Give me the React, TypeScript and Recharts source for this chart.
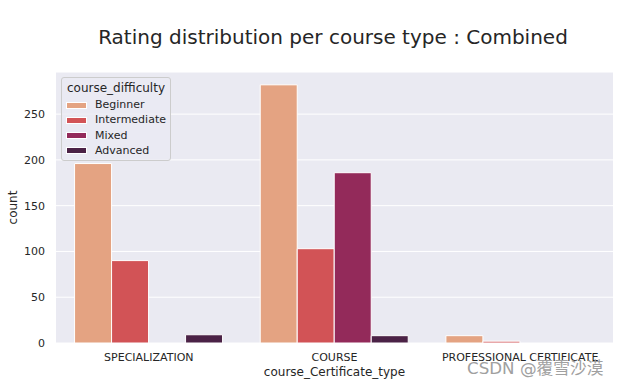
import React from "react";
import { BarChart, Bar, XAxis, YAxis, CartesianGrid, Label } from "recharts";

const categories = ["SPECIALIZATION", "COURSE", "PROFESSIONAL CERTIFICATE"];
const difficulties = ["Beginner", "Intermediate", "Mixed", "Advanced"];
const beginner = [196, 282, 8];
const intermediate = [90, 103, 2];
const mixed = [0, 186, 0];
const advanced = [9, 8, 0];
const yTicks = [0, 50, 100, 150, 200, 250];
const colors = ["#E4A382", "#D25356", "#932A5A", "#4B2246"];

const seriesValues = [beginner, intermediate, mixed, advanced];
const data = categories.map((c, i) => {
  const row: Record<string, string | number> = { type: c };
  difficulties.forEach((d, j) => {
    row[d] = seriesValues[j][i];
  });
  return row;
});

const FONT = "'DejaVu Sans', sans-serif";
const TEXT = "#262626";

export default function App() {
  return (
    <div style={{ position: "absolute", left: 0, top: 0, width: 619, height: 387, background: "#fff", fontFamily: FONT }}>
      <BarChart
        width={619}
        height={387}
        data={data}
        margin={{ top: 72, right: 6, bottom: 0, left: 0 }}
        barCategoryGap="10%"
        barGap={0}
      >
        <CartesianGrid vertical={false} stroke="#ffffff" strokeWidth={1} fill="#EAEAF2" />
        <XAxis
          dataKey="type"
          height={44}
          tickLine={false}
          axisLine={false}
          tickSize={0}
          tickMargin={10}
          tick={{ fontSize: 11, fill: TEXT, fontFamily: FONT }}
        >
          <Label value="course_Certificate_type" position="insideBottom" offset={11} style={{ fontSize: 12, fill: TEXT, fontFamily: FONT }} />
        </XAxis>
        <YAxis
          width={56}
          domain={[0, 296]}
          ticks={yTicks}
          tickLine={false}
          axisLine={false}
          tickSize={0}
          tickMargin={11}
          tick={{ fontSize: 11, fill: TEXT, fontFamily: FONT }}
        >
          <Label value="count" angle={-90} position="insideLeft" offset={13} style={{ fontSize: 12, fill: TEXT, fontFamily: FONT, textAnchor: "middle" }} />
        </YAxis>
        {difficulties.map((d, j) => (
          <Bar key={d} dataKey={d} fill={colors[j]} stroke="#ffffff" strokeWidth={1} isAnimationActive={false} />
        ))}
      </BarChart>

      <div style={{ position: "absolute", left: 0, width: 666, top: 25, textAlign: "center", fontSize: 20, color: TEXT, lineHeight: "24px", whiteSpace: "nowrap" }}>
        Rating distribution per course type : Combined
      </div>

      <div
        style={{
          position: "absolute",
          left: 61,
          top: 77,
          width: 108,
          height: 82,
          background: "rgba(234,234,242,0.8)",
          border: "1px solid #cccccc",
          borderRadius: 3,
          color: TEXT,
        }}
      >
        <div style={{ position: "absolute", left: 0, width: 108, top: 2, textAlign: "center", fontSize: 12, lineHeight: "16px", whiteSpace: "nowrap" }}>
          course_difficulty
        </div>
        {difficulties.map((d, j) => (
          <div key={d} style={{ position: "absolute", left: 4, top: 20 + j * 15.3, height: 14, display: "flex", alignItems: "center", whiteSpace: "nowrap" }}>
            <div style={{ width: 21, height: 7, background: colors[j], border: "0.5px solid #fff", boxSizing: "border-box" }} />
            <span style={{ marginLeft: 8, fontSize: 11, lineHeight: "14px" }}>{d}</span>
          </div>
        ))}
      </div>

      <div
        style={{
          position: "absolute",
          left: 467,
          top: 357,
          fontSize: 16.7,
          lineHeight: "21px",
          color: "#a0a0a0",
          fontFamily: "'DejaVu Sans', 'Noto Sans CJK SC', sans-serif",
          whiteSpace: "nowrap",
        }}
      >
        CSDN @<span style={{ fontFamily: "'Noto Sans CJK SC', sans-serif" }}>覆雪沙漠</span>
      </div>
    </div>
  );
}
